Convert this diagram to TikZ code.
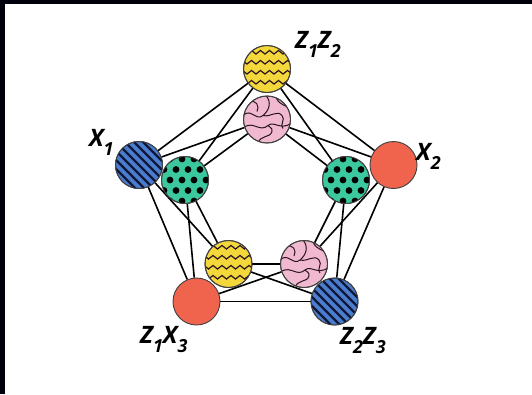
\documentclass[tikz,border=0pt]{standalone}
\usepackage{fontspec}
\setmainfont{Open Sans}
\definecolor{cyel}{HTML}{F4D73A}
\definecolor{cpink}{HTML}{F1B9CF}
\definecolor{cblue}{HTML}{4A7DCF}
\definecolor{cgreen}{HTML}{3CC89E}
\definecolor{cred}{HTML}{F0644E}
\definecolor{cnavy}{HTML}{101838}
\definecolor{csq}{HTML}{2A1420}
\tikzset{
  vtx/.style={circle, minimum size=47pt, inner sep=0pt, line width=0.9pt, draw=black!75},
  edge/.style={line width=1.6pt, draw=black},
  rim/.style={line width=0.9pt, draw=black!75},
  lbl/.style={inner sep=0pt, anchor=base west, font=\fontsize{24}{24}\selectfont\bfseries\itshape},
}
\newcommand\sbs[1]{\raisebox{-9pt}{\fontsize{18}{18}\selectfont #1}}
\newcommand\patzig[1]{%
  \begin{scope}
    \clip (#1.center) circle[radius=23.5pt];
    \begin{scope}[shift={(#1.center)}]
      \foreach \dy in {-15,-5,5,15} {
        \draw[line width=1.2pt, csq, line join=miter] (-29,\dy) \foreach \k in {0,...,6} { -- ++(4.5,-3.5) -- ++(4.5,3.5) };
      }
    \end{scope}
  \end{scope}
  \draw[rim] (#1.center) circle[radius=23.5pt];}
\newcommand\patstripe[1]{%
  \begin{scope}
    \clip (#1.center) circle[radius=23.5pt];
    \begin{scope}[shift={(#1.center)}]
      \foreach \c in {-36,-27,...,36} {
        \draw[line width=2.3pt, cnavy] (\c-30,-30) -- (\c+30,30);
      }
    \end{scope}
  \end{scope}
  \draw[rim] (#1.center) circle[radius=23.5pt];}
\newcommand\patdot[1]{%
  \begin{scope}
    \clip (#1.center) circle[radius=23.5pt];
    \begin{scope}[shift={(#1.center)}]
      \foreach \r in {-2,...,2} {
        \foreach \q in {-3,...,3} {
          \fill[black] ({\q*12+mod(\r+10,2)*6-3},{\r*10.5}) circle[radius=3.4pt];
        }
      }
    \end{scope}
  \end{scope}
  \draw[rim] (#1.center) circle[radius=23.5pt];}
\newcommand\patsq[1]{%
  \begin{scope}
    \clip (#1.center) circle[radius=23.5pt];
    \begin{scope}[shift={(#1.center)}, line width=1pt, csq]
      \draw (-24,-4) .. controls (-16,-12) and (-11,2) .. (-4,-4) .. controls (2,-9) and (5,-17) .. (-1,-24);
      \draw (-22,7) .. controls (-13,2) and (-7,13) .. (1,6) .. controls (7,1) and (13,11) .. (24,4);
      \draw (-4,-4) .. controls (4,-2) and (10,-10) .. (15,-4) .. controls (19,0) and (12,6) .. (16,9);
      \draw (-9,24) .. controls (-7,15) and (3,19) .. (5,12) .. controls (6,8) and (1,7) .. (1,6);
      \draw (9,-22) .. controls (13,-13) and (20,-15) .. (25,-9);
      \draw (-18,-17) .. controls (-11,-21) and (-7,-13) .. (-10,-8);
      \draw (12,24) .. controls (12,18) and (18,16) .. (22,18);
    \end{scope}
  \end{scope}
  \draw[rim] (#1.center) circle[radius=23.5pt];}
\begin{document}
\begin{tikzpicture}[x=1pt,y=-1pt]
  \useasboundingbox (0,0) rectangle (532,394);
  \fill[white] (0,0) rectangle (532,394);
  \fill[black!95!blue] (0,0) rectangle (532,4);
  \fill[black!95!blue] (0,0) rectangle (5,394);
  % outer
  \node[vtx, fill=cyel]  (oT)  at (267,69) {};
  \node[vtx, fill=cblue] (oL)  at (139,165) {};
  \node[vtx, fill=cred]  (oR)  at (393.5,165) {};
  \node[vtx, fill=cred]  (oBL) at (196.5,301.5) {};
  \node[vtx, fill=cblue] (oBR) at (334.5,301.5) {};
  % inner
  \node[vtx, fill=cpink]  (iT)  at (267,119.5) {};
  \node[vtx, fill=cgreen] (iL)  at (185,180) {};
  \node[vtx, fill=cgreen] (iR)  at (346,180) {};
  \node[vtx, fill=cyel]   (iBL) at (228.5,264) {};
  \node[vtx, fill=cpink]  (iBR) at (304,264) {};
  % edges
  \foreach \p/\q in {T/L, L/BL, BL/BR, BR/R, R/T} {
    \draw[edge] (o\p) -- (o\q);
    \draw[edge] (o\p) -- (i\q);
    \draw[edge] (i\p) -- (o\q);
    \draw[edge] (i\p) -- (i\q);
  }
  % patterns
  \patzig{oT}
  \patzig{iBL}
  \patstripe{oL}
  \patstripe{oBR}
  \patdot{iL}
  \patdot{iR}
  \patsq{iT}
  \patsq{iBR}
  % labels
  \node[lbl] (lZZa) at (295,48) {Z\sbs{1}Z\sbs{2}};
  \node[lbl] (lXa)  at (89,146) {X\sbs{1}};
  \node[lbl] (lXb)  at (416,160) {X\sbs{2}};
  \node[lbl] (lZX)  at (140,343) {Z\sbs{1}X\sbs{3}};
  \node[lbl] (lZZb) at (340,344) {Z\sbs{2}Z\sbs{3}};
\end{tikzpicture}
\end{document}
